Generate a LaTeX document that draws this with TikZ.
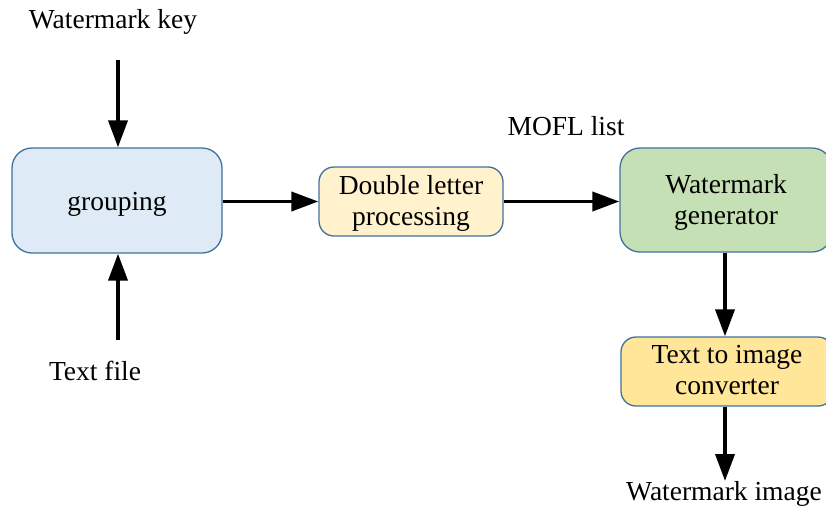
\documentclass[tikz,border=0pt]{standalone}
\usepackage{fontspec}
\setmainfont{Liberation Serif}
\usetikzlibrary{arrows.meta}
\definecolor{bordc}{HTML}{41719C}
\definecolor{blueF}{HTML}{DEEBF7}
\definecolor{creamF}{HTML}{FFF2CC}
\definecolor{greenF}{HTML}{C5E0B4}
\definecolor{goldF}{HTML}{FFE699}
\newcommand{\lowtxt}[2]{\raisebox{-#1}[\height][\depth]{\begin{tabular}{@{}c@{}}#2\end{tabular}}}
\begin{document}
\begin{tikzpicture}[x=1pt,y=-1pt,
  every node/.style={font=\fontsize{27.5}{31}\selectfont},
  boxbig/.style={draw=bordc,line width=1.3pt,rounded corners=20pt,align=center,inner sep=0pt},
  boxsmall/.style={draw=bordc,line width=1.3pt,rounded corners=15pt,align=center,inner sep=0pt},
  lbl/.style={inner sep=0pt},
  conn/.style={line width=3.8pt,-{Triangle[length=27pt,width=19pt]}}]
\useasboundingbox (0,0) rectangle (826,509);
\node[boxbig,fill=blueF,minimum width=210pt,minimum height=105pt] (grp) at (117,200.5) {\lowtxt{4pt}{grouping}};
\node[boxsmall,fill=creamF,minimum width=184pt,minimum height=69pt] (dlp) at (411,201.5) {\lowtxt{2pt}{Double letter\\processing}};
\node[boxbig,fill=greenF,minimum width=212pt,minimum height=104pt] (wg) at (726,200) {\lowtxt{3pt}{Watermark\\generator}};
\node[boxsmall,fill=goldF,minimum width=212pt,minimum height=69pt] (tic) at (727,371.5) {\lowtxt{1pt}{Text to image\\converter}};
\node[lbl] (key) at (113,22) {Watermark key};
\node[lbl] (tf) at (95,371) {Text file};
\node[lbl] (mofl) at (566,126) {MOFL list};
\node[lbl] (wi) at (724,494) {Watermark image};
\coordinate (keyend) at (118,60);
\coordinate (tfend) at (118,340);
\coordinate (wiend) at (725,481);
\draw[conn] (keyend) -- (grp.north -| keyend);
\draw[conn] (tfend) -- (grp.south -| tfend);
\draw[conn] (grp.east |- dlp) -- (dlp.west);
\draw[conn] (dlp.east) -- (wg.west |- dlp);
\draw[conn] (wg.south -| wiend) -- (tic.north -| wiend);
\draw[conn] (tic.south -| wiend) -- (wiend);
\end{tikzpicture}
\end{document}
